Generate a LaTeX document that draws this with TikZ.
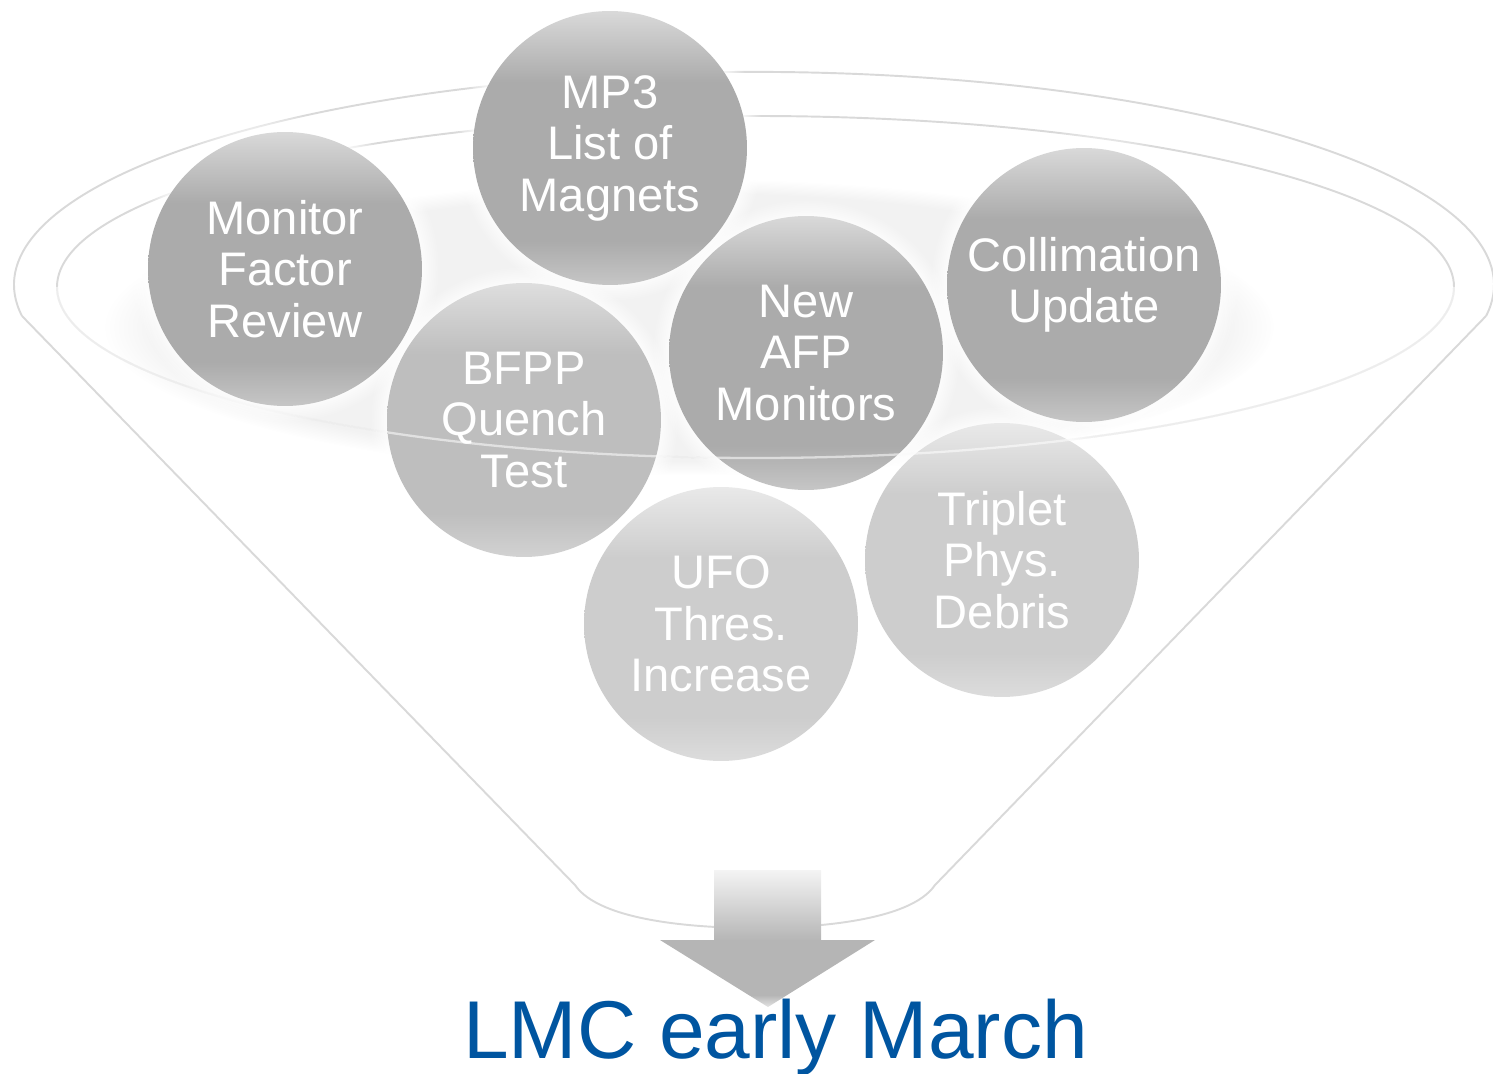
\documentclass[tikz,border=0pt]{standalone}
\usepackage{fontspec}
\setmainfont{Liberation Sans}
\usetikzlibrary{fadings}
\definecolor{lineg}{HTML}{D9D9D9}
\definecolor{shad}{HTML}{F2F2F2}
\definecolor{lmcblue}{HTML}{0055A0}
\definecolor{dbB}{HTML}{C6C6C6}
\definecolor{dbM}{HTML}{ABABAB}
\definecolor{dbT}{HTML}{D9D9D9}
\definecolor{mbB}{HTML}{D2D2D2}
\definecolor{mbM}{HTML}{BEBEBE}
\definecolor{mbT}{HTML}{DEDEDE}
\definecolor{lbB}{HTML}{DCDCDC}
\definecolor{lbM}{HTML}{CDCDCD}
\definecolor{lbT}{HTML}{E9E9E9}
\definecolor{arT}{HTML}{F4F4F4}
\definecolor{arB}{HTML}{B5B5B5}
\definecolor{arL}{HTML}{E4E4E4}
\pgfdeclareverticalshading{darkball}{100bp}{color(0bp)=(dbB); color(25bp)=(dbB); color(33bp)=(dbM); color(62bp)=(dbM); color(75bp)=(dbT); color(100bp)=(dbT)}
\pgfdeclareverticalshading{midball}{100bp}{color(0bp)=(mbB); color(25bp)=(mbB); color(33bp)=(mbM); color(62bp)=(mbM); color(75bp)=(mbT); color(100bp)=(mbT)}
\pgfdeclareverticalshading{lightball}{100bp}{color(0bp)=(lbB); color(25bp)=(lbB); color(33bp)=(lbM); color(62bp)=(lbM); color(75bp)=(lbT); color(100bp)=(lbT)}
\pgfdeclareverticalshading{headshade}{100bp}{color(0bp)=(arL); color(25bp)=(arL); color(34bp)=(arB); color(75bp)=(arB); color(100bp)=(arB)}
\tikzset{
  funnel/.style={draw=lineg, line width=1.1pt},
  ball/.style={circle, minimum size=5.48cm, inner sep=0pt, text=white, align=center,
    font=\fontsize{26.8}{29.3}\selectfont, shade},
  glow/.style={fill=white, path fading=circle with fuzzy edge 15 percent},
}
\begin{document}
\begin{tikzpicture}[x=0.02cm, y=-0.02cm]
\useasboundingbox (0,0) rectangle (1493,1074);
% soft shadow behind the balls
\fill[shad, path fading=circle with fuzzy edge 10 percent] (690,327) ellipse [x radius=585, y radius=148];
% funnel outline
\draw[funnel] (22,316) arc[start angle=171.6, end angle=368.4, x radius=740, y radius=213];
\draw[funnel] (22,316) -- (575,885) .. controls (600,922) and (700,928) .. (755,928)
  .. controls (810,928) and (910,922) .. (935,885) -- (1486,316);
\draw[funnel] (755.5,287) ellipse [x radius=698.5, y radius=171];
% glows
\foreach \p in {(285,268),(610,147),(524,420),(806,353),(1084,284),(1002,560),(721,624)}
  \fill[glow] \p circle [radius=154];
% balls
\node[ball, shading=darkball] (mon) at (285,269) {Monitor\\Factor\\Review};
\node[ball, shading=darkball] (mp3) at (610,148) {MP3\\List of\\Magnets};
\node[ball, shading=midball] (bfpp) at (524,420) {BFPP\\Quench\\Test};
\node[ball, shading=darkball] (afp) at (806,353) {New\\AFP\\Monitors};
\node[ball, shading=darkball] (coll) at (1084,285) {Collimation\\Update};
\node[ball, shading=lightball] (trip) at (1002,560) {Triplet\\Phys.\\Debris};
\node[ball, shading=lightball] (ufo) at (721,624) {UFO\\Thres.\\Increase};
% front rim of the inner ellipse over the balls
\draw[white, opacity=0.55, line width=1.3pt] (1454,287) arc[start angle=0, end angle=180, x radius=698.5, y radius=171];
% arrow
\shade[top color=arT, bottom color=arB] (714,870) rectangle (821,941);
\shade[shading=headshade] (660,940) -- (875,940) -- (768,1007) -- cycle;
% result
\node[font=\fontsize{46.7}{52}\selectfont, text=lmcblue, anchor=base, inner sep=0pt] (lmc) at (775.5,1058) {LMC early March};
\end{tikzpicture}
\end{document}
